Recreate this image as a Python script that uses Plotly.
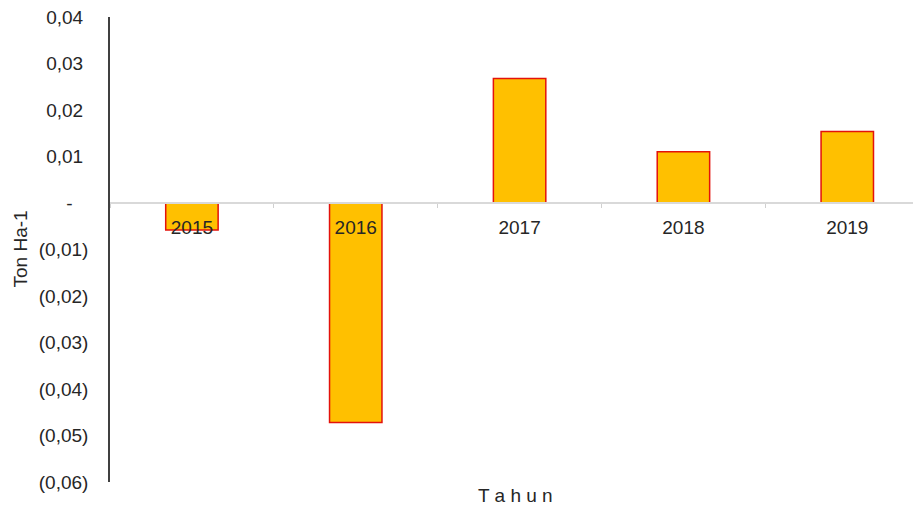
import plotly.graph_objects as go

# data
tahun = ["2015", "2016", "2017", "2018", "2019"]
nilai = [-0.0058, -0.0472, 0.0268, 0.0110, 0.0154]

y_ticks = [0.04, 0.03, 0.02, 0.01, 0.0, -0.01, -0.02, -0.03, -0.04, -0.05, -0.06]
y_labels = ["0,04", "0,03", "0,02", "0,01", "-",
            "(0,01)", "(0,02)", "(0,03)", "(0,04)", "(0,05)", "(0,06)"]

NB = "\u00a0"
# accounting-style alignment: pad positives for the missing ")"
y_text = []
for lab in y_labels:
    if lab == "-":
        y_text.append(lab + NB * 3)
    elif lab.startswith("("):
        y_text.append(lab)
    else:
        y_text.append(lab + NB)

FONT = "Liberation Sans, Arial, Helvetica, sans-serif"
FSIZE = 19
y_min, y_max = -0.06, 0.04
zero_pos = (0 - y_min) / (y_max - y_min)

fig = go.Figure()
fig.add_trace(go.Bar(
    x=tahun,
    y=nilai,
    marker=dict(color="#FFC000", line=dict(color="#E3120B", width=1.5)),
    width=0.32,
))

# page body adds ~8px offset, margins compensate for it
fig.update_layout(
    width=921,
    height=506,
    margin=dict(l=102, r=8, t=9, b=32),
    plot_bgcolor="white",
    paper_bgcolor="white",
    showlegend=False,
    font=dict(family=FONT, size=FSIZE, color="#262626"),
    xaxis=dict(
        type="category",
        range=[-0.5, 4.45],
        anchor="free",
        position=zero_pos,
        automargin=False,
        showline=True,
        linecolor="#D9D9D9",
        linewidth=1.5,
        ticks="outside",
        tickson="boundaries",
        ticklen=4,
        tickcolor="#D0D0D0",
        showgrid=False,
        ticklabelstandoff=7,
        layer="above traces",
    ),
    yaxis=dict(
        range=[y_min, y_max],
        tickvals=y_ticks,
        ticktext=y_text,
        automargin=False,
        ticklabeloverflow="allow",
        showline=True,
        linecolor="#404040",
        linewidth=1.5,
        showgrid=False,
        zeroline=False,
        ticks="",
        ticklabelstandoff=16,
    ),
    annotations=[
        dict(text="T a h u n", xref="paper", yref="paper", x=0.5, y=0,
             yshift=-13, yanchor="middle", showarrow=False,
             font=dict(family=FONT, size=FSIZE, color="#262626")),
        dict(text="Ton Ha-1", xref="paper", yref="paper", x=0, y=0.5,
             xshift=-90, xanchor="center", textangle=-90, showarrow=False,
             font=dict(family=FONT, size=FSIZE, color="#262626")),
    ],
)

fig.write_html("out.html")
